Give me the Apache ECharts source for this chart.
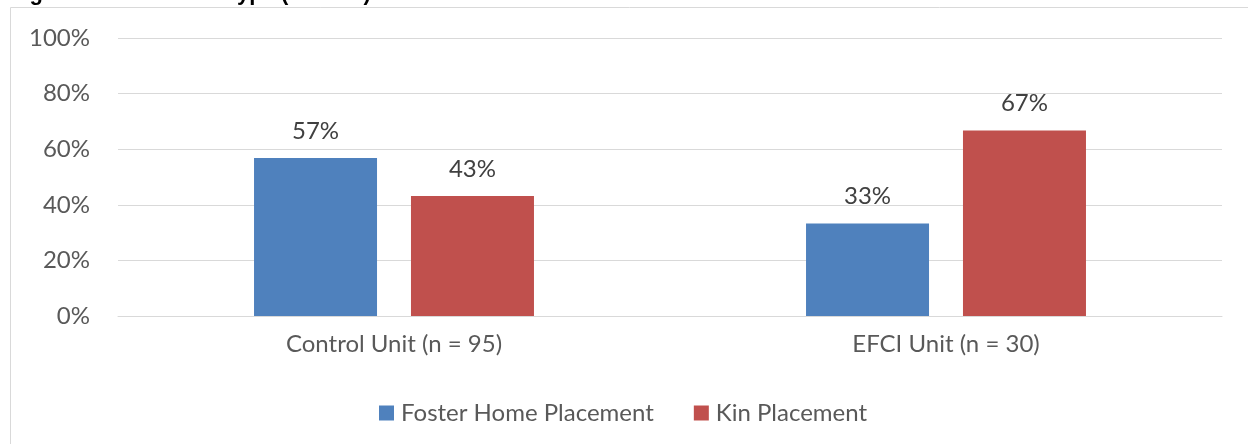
<!DOCTYPE html>
<html>
<head>
<meta charset="utf-8">
<script src="https://cdn.jsdelivr.net/npm/echarts@6/dist/echarts.min.js"></script>
<style>
  html, body { margin: 0; padding: 0; background: #fff; }
  #chart { width: 1248px; height: 444px; }
</style>
</head>
<body>
<div id="chart"></div>
<script>
// chart data
const categories = ['Control Unit (n = 95)', 'EFCI Unit (n = 30)'];
const fosterHome = [56.8, 33.3];
const kin = [43.2, 66.7];
const yTicks = [0, 20, 40, 60, 80, 100];

const fontFamily = 'Lato, "Open Sans", sans-serif';

const chart = echarts.init(document.getElementById('chart'));

const labelStyle = {
  show: true,
  position: 'top',
  distance: 15,
  color: '#404040',
  fontSize: 24,
  fontFamily: fontFamily,
  formatter: (p) => Math.round(p.value) + '%'
};

chart.setOption({
  animation: false,
  textStyle: { fontFamily: fontFamily },
  graphic: [
    {
      type: 'rect',
      shape: { x: 10.5, y: 7.5, width: 1300, height: 500 },
      style: { fill: 'none', stroke: '#D9D9D9', lineWidth: 1 },
      z: -1
    },
    {
      type: 'text',
      left: 10,
      top: -17,
      style: {
        text: 'Figure 4: Placement Type (n = 125)',
        fontSize: 22,
        fontWeight: 'bold',
        fill: '#000',
        fontFamily: 'Liberation Sans, sans-serif'
      }
    }
  ],
  grid: {
    left: 118,
    right: 26,
    top: 38,
    bottom: 128,
    containLabel: false
  },
  legend: {
    data: ['Foster Home Placement', 'Kin Placement'],
    left: 374,
    top: 396,
    itemWidth: 15,
    itemHeight: 15,
    itemGap: 40,
    icon: 'rect',
    textStyle: { color: '#595959', fontSize: 24, fontFamily: fontFamily, padding: [0, 0, 0, 2] }
  },
  xAxis: {
    type: 'category',
    data: categories,
    axisLine: { lineStyle: { color: '#D9D9D9', width: 1 } },
    axisTick: { show: false },
    axisLabel: { color: '#595959', fontSize: 24, margin: 16, fontFamily: fontFamily }
  },
  yAxis: {
    type: 'value',
    min: yTicks[0],
    max: yTicks[yTicks.length - 1],
    interval: 20,
    axisLine: { show: false },
    axisTick: { show: false },
    axisLabel: {
      color: '#595959',
      fontSize: 24,
      margin: 28,
      fontFamily: fontFamily,
      formatter: (v) => v + '%'
    },
    splitLine: { lineStyle: { color: '#D9D9D9', width: 1 } }
  },
  series: [
    {
      name: 'Foster Home Placement',
      type: 'bar',
      data: fosterHome,
      itemStyle: { color: '#4F81BD' },
      barWidth: 123,
      barGap: '27.6%',
      label: labelStyle
    },
    {
      name: 'Kin Placement',
      type: 'bar',
      data: kin,
      itemStyle: { color: '#C0504D' },
      barWidth: 123,
      label: labelStyle
    }
  ]
});

window.addEventListener('resize', () => chart.resize());
</script>
</body>
</html>
